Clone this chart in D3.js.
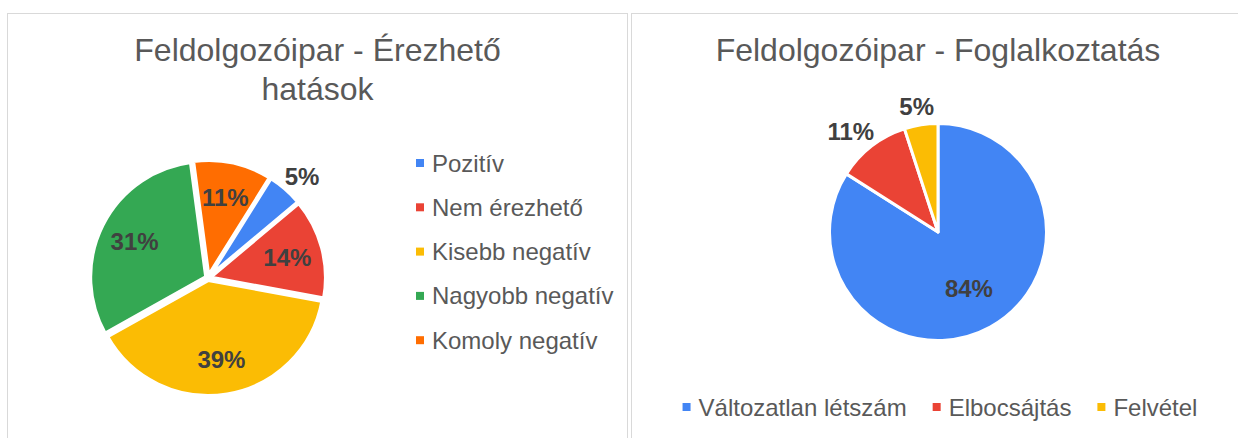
<!DOCTYPE html>
<html>
<head>
<meta charset="utf-8">
<script src="https://cdn.jsdelivr.net/npm/d3@7"></script>
<style>
  body { margin: 0; background: #fff; }
  svg { display: block; font-family: "Liberation Sans", Arial, sans-serif; }
</style>
</head>
<body>
<div id="chart"></div>
<script>
// left chart: felt effects
const impactTitle = ["Feldolgozóipar - Érezhető", "hatások"];
const impactCategories = ["Pozitív", "Nem érezhető", "Kisebb negatív", "Nagyobb negatív", "Komoly negatív"];
const impactValues = [5, 14, 39, 31, 11];
const impactColors = ["#4285f4", "#ea4335", "#fbbc04", "#34a853", "#ff6d01"];

// right chart: employment
const jobsTitle = ["Feldolgozóipar - Foglalkoztatás"];
const jobsCategories = ["Változatlan létszám", "Elbocsájtás", "Felvétel"];
const jobsValues = [84, 11, 5];
const jobsColors = ["#4285f4", "#ea4335", "#fbbc04"];

const width = 1238, height = 438;
const svg = d3.select("#chart").append("svg").attr("width", width).attr("height", height);

// panel frames
svg.append("rect").attr("x", 7.5).attr("y", 13.5).attr("width", 620).attr("height", 440)
    .attr("fill", "#fff").attr("stroke", "#d9d9d9");
svg.append("rect").attr("x", 631.5).attr("y", 13.5).attr("width", 620).attr("height", 440)
    .attr("fill", "#fff").attr("stroke", "#d9d9d9");

function drawTitle(lines, cx) {
    svg.append("g").selectAll("text").data(lines).enter().append("text")
        .attr("x", cx).attr("y", (d, i) => 61 + i * 39)
        .attr("text-anchor", "middle").attr("fill", "#595959")
        .style("font-size", "32px").text(d => d);
}

function drawPie(values, colors, o) {
    const g = svg.append("g").attr("transform", `translate(${o.cx},${o.cy})`);
    const a0 = o.start * Math.PI / 180;
    const arcs = d3.pie().sort(null).startAngle(a0).endAngle(a0 + 2 * Math.PI)(values);
    const arc = d3.arc().innerRadius(0).outerRadius(o.r + o.gap / 2);
    const total = d3.sum(values);

    g.selectAll("path").data(arcs).enter().append("path")
        .attr("d", arc)
        .attr("transform", d => {
            const m = (d.startAngle + d.endAngle) / 2;
            return `translate(${Math.sin(m) * o.explode},${-Math.cos(m) * o.explode})`;
        })
        .attr("fill", (d, i) => colors[i])
        .attr("stroke", "#fff").attr("stroke-width", o.gap).attr("stroke-linejoin", "round");

    const fs = 24, capH = fs * 0.72;
    const labels = g.selectAll("text").data(arcs).enter().append("text")
        .attr("text-anchor", "middle").attr("dy", "0.36em")
        .attr("fill", "#404040").style("font-size", fs + "px").style("font-weight", "bold")
        .text(d => Math.round(d.value / total * 100) + "%");

    labels.each(function(d) {
        const w = this.getComputedTextLength();
        const m = (d.startAngle + d.endAngle) / 2;
        const half = (d.endAngle - d.startAngle) / 2;
        const sx = Math.sin(m), cy = -Math.cos(m);
        // big slices get their label pulled a bit toward the centre
        const rho = o.r * (half >= Math.PI / 2 ? 0.6 : 0.72);
        const extPerp = w / 2 * Math.abs(Math.cos(m)) + capH / 2 * Math.abs(Math.sin(m));
        const extRad = w / 2 * Math.abs(Math.sin(m)) + capH / 2 * Math.abs(Math.cos(m));
        const fits = half >= Math.PI / 2 ||
            ((rho - extRad) * Math.tan(half) >= extPerp * 0.9 && rho + extRad <= o.r);
        let x, y;
        if (fits) {
            x = sx * rho; y = cy * rho;
        } else {
            const out = o.r + 12;
            x = sx * out + sx * w / 2;
            y = cy * out + cy * capH / 2;
        }
        d3.select(this).attr("x", x).attr("y", y);
    });
}

drawTitle(impactTitle, 317.5);
drawTitle(jobsTitle, 938);

drawPie(impactValues, impactColors, { cx: 208, cy: 278, r: 114, start: 32, explode: 2, gap: 4 });
drawPie(jobsValues, jobsColors, { cx: 938, cy: 232, r: 107, start: 0, explode: 0, gap: 3 });

// left legend, vertical
const legL = svg.append("g").selectAll("g").data(impactCategories).enter().append("g")
    .attr("transform", (d, i) => `translate(416,${163 + i * 44.3})`);
legL.append("rect").attr("x", 0).attr("y", -4).attr("width", 8).attr("height", 8)
    .attr("fill", (d, i) => impactColors[i]);
legL.append("text").attr("x", 16).attr("y", 8.5).attr("fill", "#595959")
    .style("font-size", "24px").text(d => d);

// right legend, horizontal, centred under the pie
const legR = svg.append("g");
const items = legR.selectAll("g").data(jobsCategories).enter().append("g");
items.append("rect").attr("x", 0).attr("y", -4).attr("width", 8).attr("height", 8)
    .attr("fill", (d, i) => jobsColors[i]);
items.append("text").attr("x", 16).attr("y", 8.5).attr("fill", "#595959")
    .style("font-size", "24px").text(d => d);
let xPos = 0;
items.each(function() {
    const w = d3.select(this).select("text").node().getComputedTextLength();
    d3.select(this).attr("transform", `translate(${xPos},0)`);
    xPos += 16 + w + 26;
});
const legW = xPos - 26;
legR.attr("transform", `translate(${940 - legW / 2},407)`);
</script>
</body>
</html>
